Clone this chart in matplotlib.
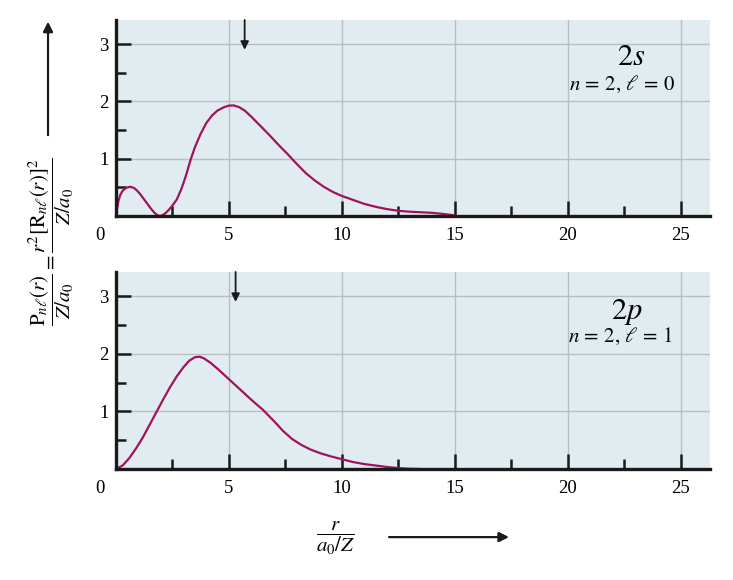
import numpy as np
import matplotlib
matplotlib.use('Agg')
import matplotlib.pyplot as plt
from matplotlib.ticker import MultipleLocator

plt.rcParams['font.family'] = ['Liberation Serif', 'DejaVu Serif']
plt.rcParams['mathtext.fontset'] = 'stix'

# 2s radial probability
r_2s = [0.0, 0.05, 0.12, 0.2, 0.3, 0.45, 0.63, 0.8, 0.95, 1.1, 1.25, 1.4, 1.55, 1.7, 1.82,
        1.93, 2.05, 2.2, 2.35, 2.5, 2.7, 2.9, 3.1, 3.3, 3.5, 3.75, 4.0, 4.25, 4.5, 4.8,
        5.0, 5.2, 5.45, 5.7, 6.0, 6.4, 6.8, 7.2, 7.6, 8.0, 8.4, 8.8, 9.2, 9.6, 10.0,
        10.5, 11.0, 11.5, 12.0, 12.5, 13.0, 13.5, 14.0, 14.5, 15.0]
p_2s = [0.0, 0.12, 0.27, 0.37, 0.44, 0.49, 0.51, 0.49, 0.44, 0.37, 0.29, 0.21, 0.13, 0.06, 0.02,
        0.0, 0.01, 0.05, 0.11, 0.18, 0.29, 0.47, 0.7, 0.97, 1.2, 1.43, 1.62, 1.75, 1.84, 1.9,
        1.925, 1.93, 1.9, 1.84, 1.73, 1.57, 1.41, 1.24, 1.08, 0.91, 0.75, 0.62, 0.51, 0.42, 0.35,
        0.28, 0.21, 0.16, 0.12, 0.09, 0.075, 0.065, 0.055, 0.035, 0.01]

# 2p radial probability
r_2p = [0.0, 0.3, 0.6, 0.9, 1.2, 1.5, 1.8, 2.1, 2.4, 2.7, 3.0, 3.25, 3.5, 3.7, 3.9, 4.2, 4.5,
        5.0, 5.5, 6.0, 6.5, 7.0, 7.4, 7.8, 8.2, 8.6, 9.0, 9.5, 10.0, 10.5, 11.0, 11.5, 12.0,
        12.5, 13.0, 13.5]
p_2p = [0.0, 0.06, 0.19, 0.36, 0.55, 0.77, 0.99, 1.21, 1.42, 1.61, 1.77, 1.88, 1.94, 1.95, 1.92,
        1.84, 1.74, 1.56, 1.38, 1.2, 1.03, 0.83, 0.66, 0.52, 0.42, 0.34, 0.28, 0.22, 0.17, 0.12,
        0.085, 0.06, 0.035, 0.015, 0.003, 0.0]

mean_r = [5.7, 5.3]
labels = ['2s', '2p']
quantum = [r'$n\,=\,2,\,\ell\,=\,0$', r'$n\,=\,2,\,\ell\,=\,1$']

curve_color = '#a0125e'
bg = '#e1ecf1'

fig = plt.figure(figsize=(7.33, 5.8), dpi=100)
ax_top = fig.add_axes([0.158, 0.6276, 0.811, 0.338])
ax_bot = fig.add_axes([0.158, 0.1914, 0.811, 0.3397])

series = [(r_2s, p_2s), (r_2p, p_2p)]
name_pos = [(0.867, 0.811), (0.86, 0.797)]
qn_pos = [(0.852, 0.673), (0.848, 0.675)]
for i, ax in enumerate([ax_top, ax_bot]):
    rr, pp = series[i]
    ax.set_facecolor(bg)
    ax.set_xlim(0, 26.3)
    ax.set_ylim(0, 3.42)
    ax.grid(True, color='#b9bec1', linewidth=1.0)
    ax.set_axisbelow(True)
    ax.plot(rr, pp, color=curve_color, linewidth=1.6, solid_joinstyle='round',
            solid_capstyle='round')
    for side in ['top', 'right']:
        ax.spines[side].set_visible(False)
    for side in ['left', 'bottom']:
        ax.spines[side].set_linewidth(2.4)
        ax.spines[side].set_color('#1a1a1a')
    ax.xaxis.set_major_locator(MultipleLocator(5))
    ax.xaxis.set_minor_locator(MultipleLocator(2.5))
    ax.yaxis.set_major_locator(MultipleLocator(1))
    ax.yaxis.set_minor_locator(MultipleLocator(0.5))
    ax.tick_params(which='major', direction='in', length=11, width=1.8, color='#1a1a1a',
                   labelsize=13.5, top=False, right=False)
    ax.tick_params(which='minor', direction='in', length=7, width=1.8, color='#1a1a1a',
                   top=False, right=False)
    ax.tick_params(axis='x', pad=8)
    ax.tick_params(axis='y', pad=5)
    ax.set_xticks([5, 10, 15, 20, 25])
    ax.set_yticks([1, 2, 3])
    ax.text(-0.026, -0.1, '0', transform=ax.transAxes, fontsize=13.5, ha='center', va='center')

    # mean radius arrow
    ax.annotate('', xy=(mean_r[i], 2.9), xytext=(mean_r[i], 3.42),
                arrowprops=dict(arrowstyle='-|>', color='#1a1a1a', lw=1.3,
                                mutation_scale=12, shrinkA=0, shrinkB=0))
    ax.text(name_pos[i][0], name_pos[i][1], '$' + labels[i][0] + r'\mathit{' + labels[i][1] + '}$',
            transform=ax.transAxes, fontsize=22, ha='center', va='center')
    ax.text(qn_pos[i][0], qn_pos[i][1], quantum[i], transform=ax.transAxes, fontsize=15,
            ha='center', va='center')

# axis labels with arrows
fig.text(0.07, 0.584,
         r'$\dfrac{\mathrm{P}_{n\ell}(r)}{Z/a_0}=\dfrac{r^2[\mathrm{R}_{n\ell}(r)]^2}{Z/a_0}$',
         rotation=90, fontsize=15, ha='center', va='center')
fig.add_artist(plt.annotate('', xy=(0.0655, 0.962), xytext=(0.0655, 0.767),
                            xycoords='figure fraction', textcoords='figure fraction',
                            arrowprops=dict(arrowstyle='-|>', color='#1a1a1a', lw=1.5,
                                            mutation_scale=14, shrinkA=0, shrinkB=0)))
fig.text(0.458, 0.072, r'$\dfrac{r}{a_0/Z}$', fontsize=15, ha='center', va='center')
fig.add_artist(plt.annotate('', xy=(0.694, 0.074), xytext=(0.531, 0.074),
                            xycoords='figure fraction', textcoords='figure fraction',
                            arrowprops=dict(arrowstyle='-|>', color='#1a1a1a', lw=1.5,
                                            mutation_scale=14, shrinkA=0, shrinkB=0)))

fig.savefig('out.png', dpi=100)
